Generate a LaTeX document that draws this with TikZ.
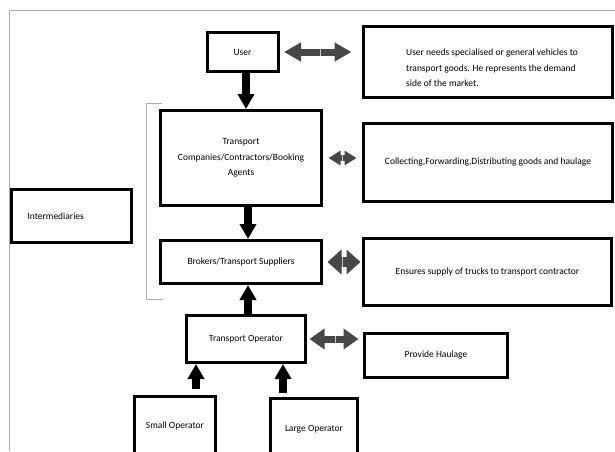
\documentclass[tikz,border=0pt]{standalone}
\usepackage{fontspec}
\setmainfont{Carlito}
\usetikzlibrary{arrows.meta,calc}

\tikzset{
  box/.style={draw, line width=3pt, inner sep=2pt},
  fat/.style={line width=7.5pt, -{Triangle[width=16pt,length=15pt]}},
  dbl/.style n args={3}{draw=black!72, line width=#1,
    arrows={Triangle[width=#2,length=#3]-Triangle[width=#2,length=#3]}},
  splitmark/.style={fill=gray!45, minimum width=0.8pt, minimum height=7pt, inner sep=0pt},
  frame/.style={gray!65, line width=0.8pt}
}

\begin{document}
\begin{tikzpicture}[x=1pt,y=-1pt,font=\fontsize{9.5}{15.5}\selectfont]
  \useasboundingbox (0,0) rectangle (615,451);
  % frame and bracket
  \draw[frame] (9,451)--(9,10)--(615,10);
  \draw[frame] (162,103)--(146,103)--(146,299)--(163,299);

  % boxes
  \node[box, minimum width=71pt, minimum height=39pt] (user) at (242.5,52) {User};
  \node[box, minimum width=249pt, minimum height=71pt] (need) at (488,62) {};
  \node[align=left] (needtext) at ([xshift=4pt,yshift=-6pt]need.center)
    {User needs specialised or general vehicles to\\transport goods. He represents the demand\\side of the market.};
  \node[box, minimum width=161pt, minimum height=95pt, align=center] (tc) at (241,158)
    {Transport\\Companies/Contractors/Booking\\Agents};
  \node[box, minimum width=249pt, minimum height=78pt] (coll) at (488,162.5)
    {Collecting,Forwarding,Distributing goods and haulage};
  \node[box, minimum width=120pt, minimum height=53pt] (inter) at (71.5,216)
    {\makebox[88pt][l]{Intermediaries}};
  \node[box, minimum width=161pt, minimum height=43pt] (brok) at (241,262)
    {Brokers/Transport Suppliers};
  \node[box, minimum width=248pt, minimum height=67pt] (supply) at (487.5,272)
    {Ensures supply of trucks to transport contractor};
  \node[box, minimum width=119pt, minimum height=47pt] (top) at (246,339)
    {Transport Operator};
  \node[box, minimum width=143pt, minimum height=44pt] (haul) at (436,355.5)
    {Provide Haulage};
  \node[box, minimum width=81pt, minimum height=60pt] (small) at (175,426)
    {Small Operator};
  \node[box, minimum width=87pt, minimum height=61pt] (large) at (314,429)
    {Large Operator};

  % vertical arrows
  \draw[fat] ([xshift=3.5pt]user.south) -- ([xshift=3.5pt]user.south |- tc.north);
  \draw[fat] ([xshift=7pt]tc.south) -- ([xshift=7pt]tc.south |- brok.north);
  \draw[fat] ([xshift=2pt]top.north) -- ([xshift=2pt]top.north |- brok.south);
  \draw[fat,shorten <=6pt] ([xshift=21pt]small.north) -- ([xshift=21pt]small.north |- top.south);
  \draw[fat,shorten <=4pt] ([xshift=-31pt]large.north) -- ([xshift=-31pt]large.north |- top.south);

  % double arrows
  \draw[dbl={7pt}{18pt}{17pt}, shorten <=4.5pt, shorten >=10.5pt] (user) -- (user -| need.west)
    node[midway, splitmark] (m1) {};
  \draw[dbl={6pt}{14pt}{12pt}, shorten <=5.5pt, shorten >=5.5pt] (tc.east) -- (tc.east -| coll.west)
    node[midway, splitmark, minimum height=6pt] (m2) {};
  \draw[dbl={10pt}{24pt}{14pt}, shorten <=4.5pt, shorten >=1.5pt] (brok.east) -- (brok.east -| supply.west)
    node[midway, splitmark, minimum height=10pt] (m3) {};
  \draw[dbl={7pt}{20pt}{15pt}, shorten <=2.5pt, shorten >=4.5pt] (top.east) -- (top.east -| haul.west)
    node[midway, splitmark] (m4) {};
\end{tikzpicture}
\end{document}
